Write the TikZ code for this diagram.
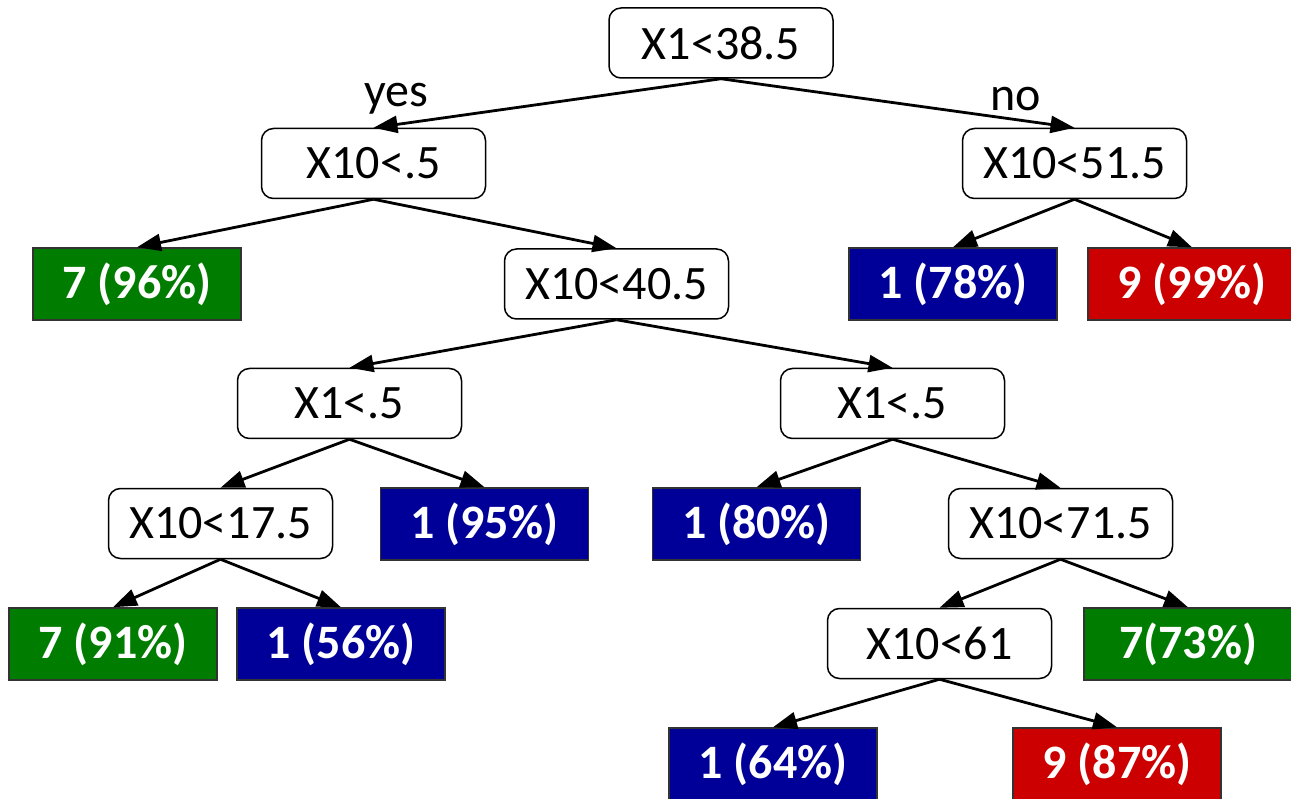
\documentclass[tikz,border=0pt]{standalone}
\usepackage{fontspec}
\setmainfont{Carlito}
\usetikzlibrary{arrows.meta}
\definecolor{leafgreen}{RGB}{0,125,0}
\definecolor{leafblue}{RGB}{0,0,153}
\definecolor{leafred}{RGB}{204,0,0}
\begin{document}
\begin{tikzpicture}[x=1pt,y=-1pt,
  font=\fontsize{48}{52}\selectfont,
  split/.style={draw,line width=1.5pt,rounded corners=12pt,fill=white,minimum width=224pt,minimum height=70pt,inner sep=0pt},
  leaf/.style={draw=black!80,line width=1.5pt,minimum width=208pt,minimum height=72pt,inner sep=0pt,text=white,font=\fontsize{48}{52}\selectfont\bfseries},
  edge/.style={line width=2.8pt,-{Triangle[length=24pt,width=17pt]}}]
\useasboundingbox (0,0) rectangle (1291,799);
% splits
\node[split] (root) at (721,43) {X1<38.5};
\node[split] (s1) at (373.5,163.5) {X10<.5};
\node[split] (s2) at (1074.5,163.5) {X10<51.5};
\node[split] (s3) at (616.5,284) {X10<40.5};
\node[split] (s4) at (349.5,403.5) {X1<.5};
\node[split] (s5) at (892.5,403.5) {X1<.5};
\node[split] (s6) at (220.5,523.5) {X10<17.5};
\node[split] (s7) at (1060.5,523.5) {X10<71.5};
\node[split] (s8) at (939.5,643.5) {X10<61};
% leaves
\node[leaf,fill=leafgreen] (l1) at (137,284) {7 (96\%)};
\node[leaf,fill=leafblue] (l2) at (953,284) {1 (78\%)};
\node[leaf,fill=leafred] (l3) at (1192,284) {9 (99\%)};
\node[leaf,fill=leafblue] (l4) at (484.5,524) {1 (95\%)};
\node[leaf,fill=leafblue] (l5) at (756.5,524) {1 (80\%)};
\node[leaf,fill=leafgreen] (l6) at (113,644) {7 (91\%)};
\node[leaf,fill=leafblue] (l7) at (341,644) {1 (56\%)};
\node[leaf,fill=leafgreen] (l8) at (1188,644) {7(73\%)};
\node[leaf,fill=leafblue] (l9) at (773,764) {1 (64\%)};
\node[leaf,fill=leafred] (l10) at (1117,764) {9 (87\%)};
% edges
\draw[edge] (root.south) -- (s1.north);
\draw[edge] (root.south) -- (s2.north);
\draw[edge] (s1.south) -- (l1.north);
\draw[edge] (s1.south) -- (s3.north);
\draw[edge] (s2.south) -- (l2.north);
\draw[edge] (s2.south) -- (l3.north);
\draw[edge] (s3.south) -- (s4.north);
\draw[edge] (s3.south) -- (s5.north);
\draw[edge] (s4.south) -- (s6.north);
\draw[edge] (s4.south) -- (l4.north);
\draw[edge] (s5.south) -- (l5.north);
\draw[edge] (s5.south) -- (s7.north);
\draw[edge] (s6.south) -- (l6.north);
\draw[edge] (s6.south) -- (l7.north);
\draw[edge] (s7.south) -- (s8.north);
\draw[edge] (s7.south) -- (l8.north);
\draw[edge] (s8.south) -- (l9.north);
\draw[edge] (s8.south) -- (l10.north);
% branch labels
\node (yes) at (396,99) {yes};
\node (no) at (1016,99) {no};
\end{tikzpicture}
\end{document}
